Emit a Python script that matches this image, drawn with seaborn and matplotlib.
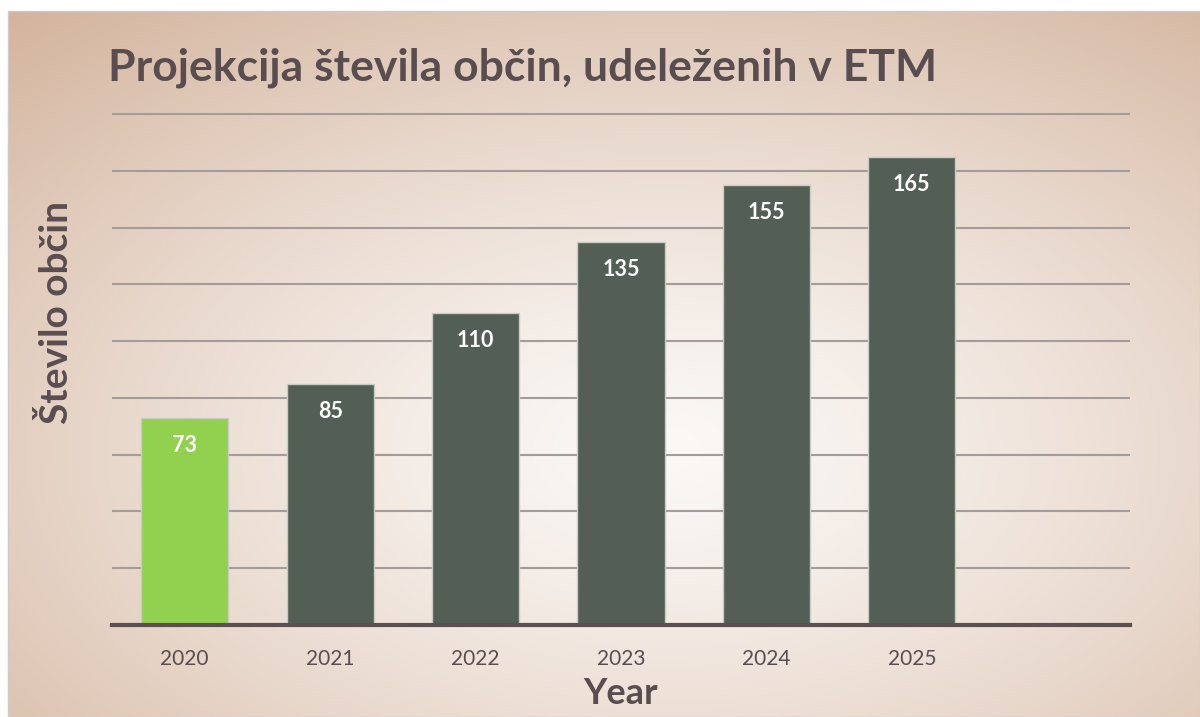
import numpy as np
import pandas as pd
import seaborn as sns
import matplotlib.pyplot as plt
from matplotlib.colors import to_rgb

years = ["2020", "2021", "2022", "2023", "2024", "2025"]
counts = [73, 85, 110, 135, 155, 165]
bar_colors = ["#92d050", "#535f55", "#535f55", "#535f55", "#535f55", "#535f55"]

TEXT = "#5a4d50"
GRID = "#a39c9a"
AXIS = "#5c4f50"

sns.set_theme(style="white")
plt.rcParams["font.family"] = ["Lato", "DejaVu Sans"]

df = pd.DataFrame({"year": years, "count": counts})

fig = plt.figure(figsize=(12, 7.17), dpi=100, facecolor="white")

# radial gradient background panel
bg = fig.add_axes([8 / 1200, 0, 1192 / 1200, 706 / 717])
bg.set_zorder(-10)
h, w = 360, 600
yy, xx = np.mgrid[0:h, 0:w]
cx, cy = 0.55 * w, 0.62 * h
d = np.sqrt(((xx - cx) / w) ** 2 + ((yy - cy) / h) ** 2)
d = np.clip(d / d.max(), 0, 1) ** 1.3
c0 = np.array(to_rgb("#fbf8f6"))
c1 = np.array(to_rgb("#d3b39c"))
img = c0[None, None, :] * (1 - d[..., None]) + c1[None, None, :] * d[..., None]
bg.imshow(img, aspect="auto", extent=[0, 1, 0, 1])
bg.axis("off")
fig.patches.append(plt.Rectangle((8 / 1200, 0), 1192 / 1200, 706 / 717,
                                 transform=fig.transFigure, fill=False,
                                 edgecolor="#cfcaca", linewidth=1, zorder=-5))

ax = fig.add_axes([112 / 1200, 1 - 625 / 717, 1018 / 1200, (625 - 110) / 717])
ax.patch.set_alpha(0)
sns.barplot(data=df, x="year", y="count", hue="year", palette=bar_colors,
            legend=False, width=0.6, saturation=1, ax=ax,
            edgecolor="#c9ccc6", linewidth=1, zorder=3)

ax.set_xlim(-0.5, 6.5)
ax.set_ylim(0, 180 * 515 / 511)
ax.set_yticks(range(20, 181, 20))
ax.yaxis.grid(True, color=GRID, linewidth=1.5, zorder=0)
ax.set_axisbelow(True)
ax.tick_params(axis="y", left=False, labelleft=False)
ax.tick_params(axis="x", bottom=False, labelsize=15, colors=TEXT, pad=11)
for s in ["top", "right", "left"]:
    ax.spines[s].set_visible(False)
ax.spines["bottom"].set_color(AXIS)
ax.spines["bottom"].set_linewidth(3)
ax.spines["bottom"].set_zorder(5)

for i, v in enumerate(counts):
    ax.annotate(str(v), (i, v), xytext=(0, -20), textcoords="offset points",
                ha="center", va="center", color="white", fontsize=15.5,
                fontweight="bold", zorder=6)

ax.set_xlabel("Year", fontsize=26, fontweight="bold", color=TEXT, labelpad=6)
ax.set_ylabel("")
fig.text(56 / 1200, 1 - 312 / 717, "Število občin", rotation=90, ha="center",
         va="center", fontsize=28, fontweight="bold", color=TEXT)

fig.text(108 / 1200, 1 - 68 / 717, "Projekcija števila občin, udeleženih v ETM",
         ha="left", va="center", fontsize=32, fontweight="bold", color=TEXT)

fig.savefig("out.png", dpi=100, facecolor="white")
